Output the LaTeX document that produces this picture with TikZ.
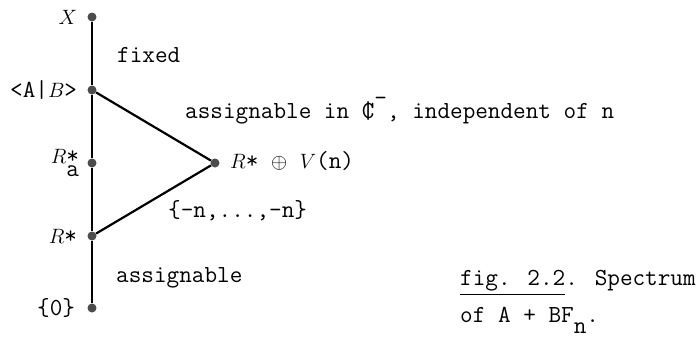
\documentclass[tikz,border=0pt]{standalone}
\usepackage{amsmath}
\usepackage{fontspec}
\usetikzlibrary{positioning}
\newcommand{\mvar}[1]{{\fontsize{20}{22}\selectfont$#1$}}
\tikzset{
  dot/.style={circle, fill=black!70, inner sep=0pt, minimum size=9pt},
  lbl/.style={inner sep=0pt, font=\ttfamily\fontsize{24.5}{38}\selectfont},
  spine/.style={line width=2.2pt},
}

\begin{document}
\begin{tikzpicture}[x=1pt,y=-1pt]
  \useasboundingbox (0,0) rectangle (696,338);
  % points of the spectrum
  \node[dot] (top) at (92,17) {};
  \node[dot] (ab) at (92,90) {};
  \node[dot] (rsa) at (92,163) {};
  \node[dot] (rs) at (92,236) {};
  \node[dot] (zero) at (92,308) {};
  \node[dot] (sum) at (215,163) {};
  % lines
  \draw[spine] (top) -- (ab) -- (rsa) -- (rs) -- (zero);
  \draw[spine] (ab) -- (sum) -- (rs);
  % names on the left
  \node[lbl, anchor=east, left=10pt of top] (ltop) {\mvar{X}};
  \node[lbl, anchor=east, left=10pt of ab] (lab) {<A|\mvar{B}>};
  \node[lbl, anchor=east, left=8pt of rsa] (lrsa) {\mvar{R}\makebox[0pt][l]{*}\raisebox{-.55em}{a}};
  \node[lbl, anchor=east, left=10pt of rs] (lrs) {\mvar{R}*};
  \node[lbl, anchor=east, left=12pt of zero] (lzero) {\{0\}};
  \node[lbl, anchor=base west] (lsum) at (230,168) {\mvar{R}* \mvar{\oplus} \mvar{V}(n)};
  % comments on the parts
  \node[lbl, anchor=base west] (fixed) at (117,62) {fixed};
  \node[lbl, anchor=base west] (indep) at (185,118)
    {assignable in \ooalign{C\cr|\cr}\raisebox{.5em}{-}, independent of n};
  \node[lbl, anchor=base west] (range) at (168,217) {\{-n,...,-n\}};
  \node[lbl, anchor=base west] (assign) at (116,282) {assignable};
  % caption
  \node[lbl, anchor=base west] (cap) at (460,285) {\underline{fig. 2.2}. Spectrum};
  \node[lbl, anchor=base west] (cap2) at (460,322) {of A + BF\raisebox{-.45em}{n}.};
\end{tikzpicture}
\end{document}
